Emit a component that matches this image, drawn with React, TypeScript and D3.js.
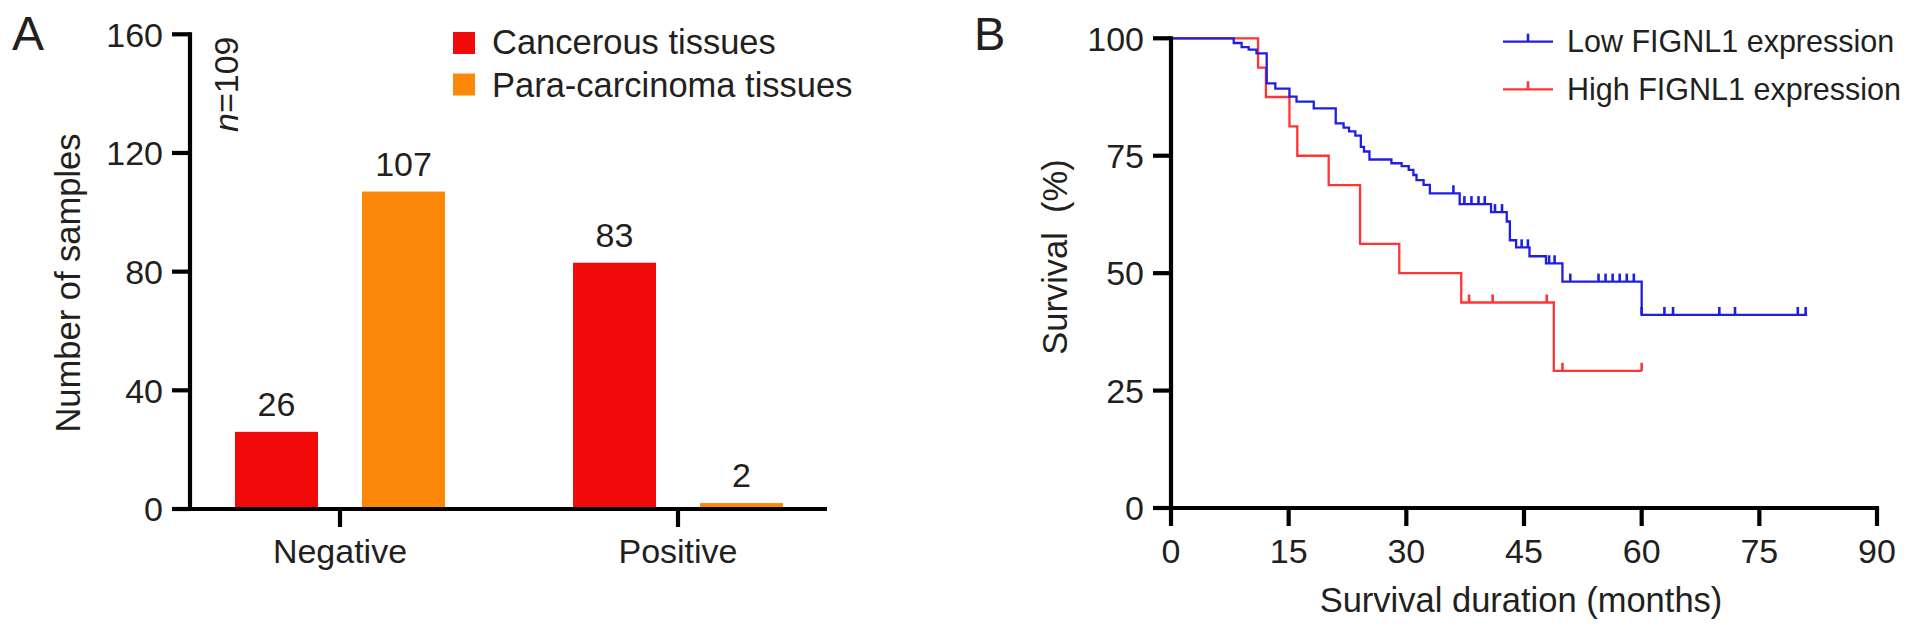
import React from "react";
import * as d3 from "d3";

// ---------- Panel A data ----------
const categories = ["Negative", "Positive"];
const seriesNames = ["Cancerous tissues", "Para-carcinoma tissues"];
const cancerousValues = [26, 83];
const paraValues = [107, 2];
const yTicksA = [0, 40, 80, 120, 160];

// ---------- Panel B data (Kaplan-Meier, months / survival %) ----------
const lowTimes = [0, 8.0, 9.0, 9.9, 10.9, 12.2, 13.3, 15.1, 16.0, 18.2, 21.0, 22.0, 22.7, 23.5, 24.2, 24.6, 25.3, 28.1, 29.4, 30.3, 30.9, 31.3, 32.2, 33.0, 36.8, 40.8, 42.8, 43.2, 44.0, 45.7, 47.8, 49.9, 60.0, 81.1];
const lowSurvival = [100, 99.0, 98.1, 97.6, 96.8, 90.4, 89.3, 87.6, 86.5, 85.1, 81.9, 81.0, 80.2, 79.3, 76.9, 75.9, 74.2, 73.4, 72.8, 72.0, 70.9, 69.8, 68.8, 67.0, 64.7, 63.0, 61.0, 57.0, 55.5, 53.6, 52.1, 48.2, 41.1, 41.1];
const lowCensored = [36.0, 37.4, 38.3, 39.2, 40.0, 41.3, 42.2, 44.7, 45.5, 48.2, 48.9, 50.9, 54.5, 55.4, 56.3, 57.2, 58.1, 59.0, 60.0, 62.9, 64.0, 69.9, 71.9, 79.9, 80.9];

const highTimes = [0, 11.1, 12.1, 15.1, 16.1, 20.1, 24.1, 29.1, 37.0, 48.8, 60.0];
const highSurvival = [100, 93.75, 87.5, 81.25, 75, 68.75, 56.25, 50, 43.75, 29.2, 29.2];
const highCensored = [38.0, 41.0, 47.9, 49.9, 60.0];

const xTicksB = [0, 15, 30, 45, 60, 75, 90];
const yTicksB = [0, 25, 50, 75, 100];
const legendB = ["Low FIGNL1 expression", "High FIGNL1 expression"];

const FONT = "'Liberation Sans', Arial, Helvetica, sans-serif";
const TEXT = "#231f20";
const RED_BAR = "#f00a0a";
const ORANGE_BAR = "#fd8708";
const KM_BLUE = "#1f1fe0";
const KM_RED = "#ff3434";

function survivalAt(times: number[], surv: number[], t: number) {
  let s = surv[0];
  for (let i = 0; i < times.length; i++) {
    if (times[i] <= t + 1e-9) s = surv[i];
  }
  return s;
}

export default function App() {
  // ---------- Scales A ----------
  const yA = d3.scaleLinear().domain([0, 160]).range([509, 34.3]);
  const xA = d3.scaleBand().domain(categories).range([171, 847]);
  const xInner = d3.scaleBand().domain(seriesNames).range([-105, 105]).paddingInner(0.3465);
  const axisLeftA = 190;
  const valuesBySeries = [cancerousValues, paraValues];
  const colors = [RED_BAR, ORANGE_BAR];

  // ---------- Scales B ----------
  const xB = d3.scaleLinear().domain([0, 90]).range([1171, 1877]);
  const yB = d3.scaleLinear().domain([0, 100]).range([508, 38.3]);

  const line = d3
    .line<[number, number]>()
    .x((d) => xB(d[0]))
    .y((d) => yB(d[1]))
    .curve(d3.curveStepAfter);

  const lowPts: [number, number][] = lowTimes.map((t, i) => [t, lowSurvival[i]]);
  const highPts: [number, number][] = highTimes.map((t, i) => [t, highSurvival[i]]);

  const tickLen = 18;
  const axisW = 4.2;

  return (
    <svg
      width={1913}
      height={633}
      style={{ position: "absolute", left: 0, top: 0, background: "#fff" }}
      fontFamily={FONT}
    >
      <rect x={0} y={0} width={1913} height={633} fill="#fff" />

      {/* ================= Panel A ================= */}
      <text x={12} y={50} fontSize={48} fill={TEXT}>A</text>

      {/* bars */}
      {categories.map((c, ci) =>
        seriesNames.map((s, si) => {
          const v = valuesBySeries[si][ci];
          const x0 = (xA(c) as number) + xA.bandwidth() / 2 + (xInner(s) as number);
          return (
            <g key={c + s}>
              <rect
                x={x0}
                y={yA(v)}
                width={xInner.bandwidth()}
                height={yA(0) - yA(v)}
                fill={colors[si]}
              />
              <text
                x={x0 + xInner.bandwidth() / 2}
                y={yA(v) - 16}
                fontSize={34}
                fill={TEXT}
                textAnchor="middle"
              >
                {v}
              </text>
            </g>
          );
        })
      )}

      {/* y axis A */}
      <line x1={axisLeftA} x2={axisLeftA} y1={yA(160) - axisW / 2} y2={yA(0)} stroke="#000" strokeWidth={axisW} />
      {yTicksA.map((t) => (
        <g key={"ya" + t}>
          <line x1={axisLeftA - tickLen} x2={axisLeftA} y1={yA(t)} y2={yA(t)} stroke="#000" strokeWidth={axisW} />
          <text x={axisLeftA - 27} y={yA(t)} dy="0.36em" fontSize={34} fill={TEXT} textAnchor="end">
            {t}
          </text>
        </g>
      ))}
      {/* x axis A */}
      <line x1={axisLeftA} x2={827} y1={yA(0)} y2={yA(0)} stroke="#000" strokeWidth={axisW} />
      {categories.map((c) => {
        const cx = (xA(c) as number) + xA.bandwidth() / 2;
        return (
          <g key={"xa" + c}>
            <line x1={cx} x2={cx} y1={yA(0)} y2={yA(0) + tickLen} stroke="#000" strokeWidth={axisW} />
            <text x={cx} y={563} fontSize={34} fill={TEXT} textAnchor="middle">
              {c}
            </text>
          </g>
        );
      })}

      {/* y label A */}
      <text
        transform={`translate(80, 283) rotate(-90)`}
        fontSize={34.5}
        fill={TEXT}
        textAnchor="middle"
      >
        Number of samples
      </text>
      {/* n=109 */}
      <text transform={`translate(238, 132) rotate(-90)`} fontSize={34} fill={TEXT} textAnchor="start">
        <tspan fontStyle="italic">n</tspan>=109
      </text>

      {/* legend A */}
      {seriesNames.map((s, i) => (
        <g key={"lga" + s}>
          <rect x={453} y={32 + i * 41.5} width={22} height={22} fill={colors[i]} />
          <text x={492} y={53.5 + i * 43.3} fontSize={34.5} fill={TEXT}>
            {s}
          </text>
        </g>
      ))}

      {/* ================= Panel B ================= */}
      <text x={974} y={50} fontSize={47} fill={TEXT}>B</text>

      {/* curves */}
      <path d={line(highPts) || ""} fill="none" stroke={KM_RED} strokeWidth={2.3} />
      <path d={line(lowPts) || ""} fill="none" stroke={KM_BLUE} strokeWidth={2.3} />
      {highCensored.map((t, i) => {
        const s = survivalAt(highTimes, highSurvival, t);
        return (
          <line key={"hc" + i} x1={xB(t)} x2={xB(t)} y1={yB(s)} y2={yB(s) - 8} stroke={KM_RED} strokeWidth={2.6} />
        );
      })}
      {lowCensored.map((t, i) => {
        const s = survivalAt(lowTimes, lowSurvival, t);
        return (
          <line key={"lc" + i} x1={xB(t)} x2={xB(t)} y1={yB(s)} y2={yB(s) - 8} stroke={KM_BLUE} strokeWidth={2.6} />
        );
      })}

      {/* y axis B */}
      <line x1={xB(0)} x2={xB(0)} y1={yB(100) - axisW / 2} y2={yB(0)} stroke="#000" strokeWidth={axisW} />
      {yTicksB.map((t) => (
        <g key={"yb" + t}>
          <line x1={xB(0) - tickLen} x2={xB(0)} y1={yB(t)} y2={yB(t)} stroke="#000" strokeWidth={axisW} />
          <text x={xB(0) - 27} y={yB(t)} dy="0.36em" fontSize={34} fill={TEXT} textAnchor="end">
            {t}
          </text>
        </g>
      ))}
      {/* x axis B */}
      <line x1={xB(0)} x2={xB(90) + axisW / 2} y1={yB(0)} y2={yB(0)} stroke="#000" strokeWidth={axisW} />
      {xTicksB.map((t) => (
        <g key={"xb" + t}>
          <line x1={xB(t)} x2={xB(t)} y1={yB(0)} y2={yB(0) + tickLen} stroke="#000" strokeWidth={axisW} />
          <text x={xB(t)} y={563} fontSize={34} fill={TEXT} textAnchor="middle">
            {t}
          </text>
        </g>
      ))}
      <text x={(xB(0) + xB(90)) / 2 - 3} y={612} fontSize={34.5} fill={TEXT} textAnchor="middle">
        Survival duration (months)
      </text>
      <text transform={`translate(1067, 257) rotate(-90)`} fontSize={34.5} fill={TEXT} textAnchor="middle">
        {"Survival\u00a0\u00a0(%)"}
      </text>

      {/* legend B */}
      {legendB.map((label, i) => {
        const ly = 41.7 + i * 47.6;
        const col = i === 0 ? KM_BLUE : KM_RED;
        return (
          <g key={"lgb" + i}>
            <line x1={1503} x2={1553} y1={ly} y2={ly} stroke={col} strokeWidth={2.3} />
            <line x1={1528} x2={1528} y1={ly} y2={ly - 8} stroke={col} strokeWidth={2.6} />
            <text x={1567} y={ly + 10.5} fontSize={30.5} fill={TEXT}>
              {label}
            </text>
          </g>
        );
      })}
    </svg>
  );
}
